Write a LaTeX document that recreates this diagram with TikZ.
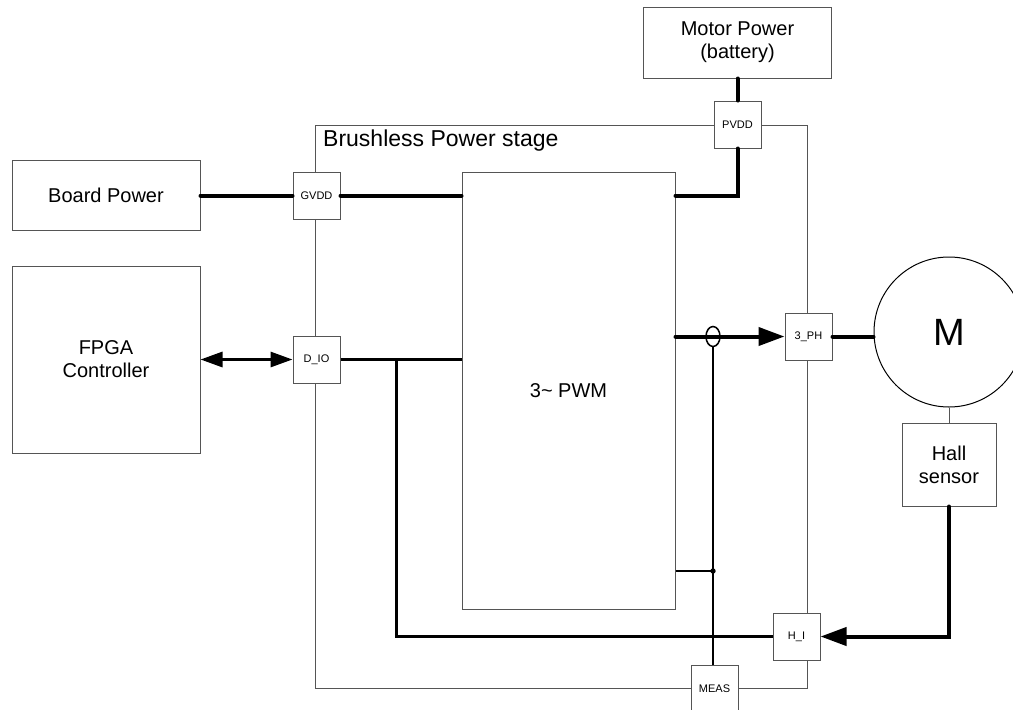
\documentclass[tikz,border=0pt]{standalone}
\usepackage{fontspec}
\setmainfont{Liberation Sans}
\usetikzlibrary{arrows.meta,shapes.geometric,calc}
\definecolor{edge}{RGB}{85,85,85}
\begin{document}
\begin{tikzpicture}[x=1pt,y=-1pt,
  blk/.style={draw=edge, line width=1pt, fill=white, inner sep=0pt, align=center, font=\fontsize{20}{23}\selectfont},
  port/.style={draw=edge, line width=1pt, fill=white, minimum size=47pt, inner sep=0pt, font=\fontsize{11}{13}\selectfont},
  thinline/.style={draw=edge, line width=1pt},
  pow/.style={line width=4pt, line cap=round},
  sig/.style={line width=3pt},
  bigtip/.style={-{Triangle[length=26pt,width=18pt]}},
  smalltip/.style={{Triangle[length=22pt,width=15pt]}-{Triangle[length=22pt,width=15pt]}}
]
\useasboundingbox (0,0) rectangle (1013,710);
\clip (0,0) rectangle (1013,710);

% power stage frame
\node[draw=edge, line width=1pt, minimum width=492pt, minimum height=563pt, inner sep=0pt] (stage) at (561,406.5) {};
\node[anchor=base west, inner sep=0pt, font=\fontsize{23}{26}\selectfont] (stagelbl) at (323,146) {Brushless Power stage};

% blocks
\node[blk, minimum width=188pt, minimum height=71pt] (motor) at (737.5,42.5) {Motor Power\\(battery)};
\node[blk, minimum width=188pt, minimum height=70pt] (board) at (106,195.5) {Board Power};
\node[blk, minimum width=188pt, minimum height=187pt] (fpga) at (106,359.5) {FPGA\\Controller};
\node[blk, minimum width=213pt, minimum height=437pt] (pwm) at (568.5,390.5) {3\textasciitilde{} PWM};
\node[blk, minimum width=94pt, minimum height=83pt] (hall) at (949,464.5) {Hall\\sensor};
\node[draw=black, line width=1pt, circle, minimum size=150pt, inner sep=0pt, font=\fontsize{38}{40}\selectfont] (mot) at (949,332) {M};

% ports
\node[port] (pvdd) at (737.5,124.5) {PVDD};
\node[port] (gvdd) at (316.5,195.5) {GVDD};
\node[port] (dio) at (316.5,359.5) {D\_IO};
\node[port] (ph) at (808.5,336.5) {3\_PH};
\node[port] (hi) at (796.5,636.5) {H\_I};
\node[port] (meas) at (714.5,688.5) {MEAS};

% power connections
\draw[pow] (motor.south) -- (pvdd.north);
\draw[pow] (pvdd.south) |- (pwm.north east |- gvdd.east);
\draw[pow] (board.east) -- (gvdd.west);
\draw[pow] (gvdd.east) -- (pwm.north west |- gvdd.east);

% digital IO
\draw[sig, smalltip] (fpga.east |- dio.west) -- (dio.west);
\draw[sig] (dio.east) -- (pwm.west |- dio.east);
\coordinate (br) at (396,359.5);
\draw[sig] (br) |- (hi.west);

% phase output
\draw[pow, bigtip] (pwm.east |- ph.west) -- (ph.west);
\draw[pow] (ph.east) -- (ph.east -| mot.west);
\node[draw, ellipse, line width=1.5pt, minimum width=14pt, minimum height=20pt, inner sep=0pt] (sense) at (713,336.5) {};
\draw[line width=2pt] (sense.south) -- (sense.south |- meas.north);
\coordinate (tap) at (713,571);
\draw[line width=1.5pt] (pwm.east |- tap) -- (tap);
\fill (tap) circle (2.7pt);

% hall
\draw[thinline] (mot.south) -- (hall.north);
\draw[pow, bigtip] (hall.south) |- (hi.east);
\end{tikzpicture}
\end{document}
